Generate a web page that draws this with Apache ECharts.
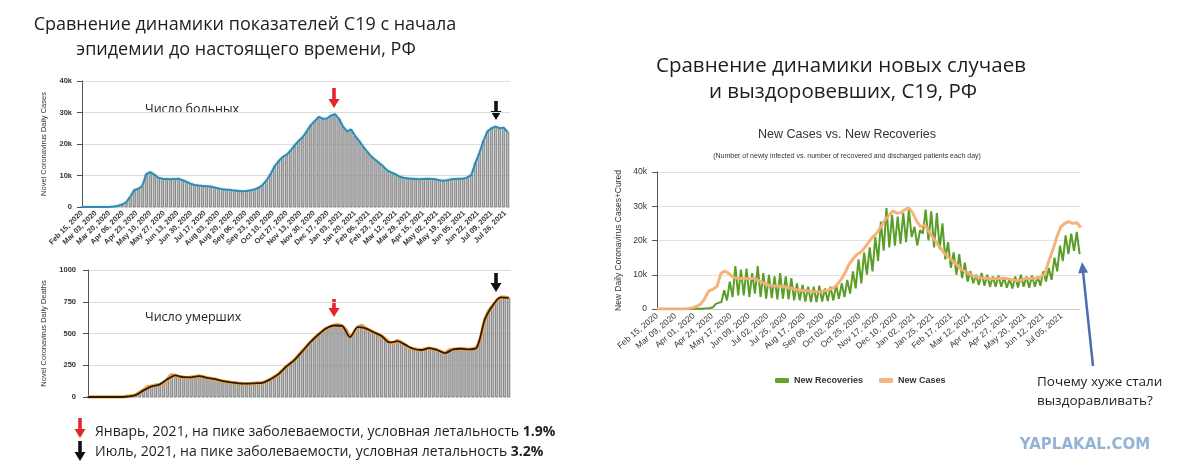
<!DOCTYPE html>
<html>
<head>
<meta charset="utf-8">
<script src="https://cdn.jsdelivr.net/npm/echarts@6/dist/echarts.min.js"></script>
<style>
html, body { margin: 0; padding: 0; background: #fff; }
#chart { width: 1178px; height: 474px; }
</style>
</head>
<body>
<div id="chart"></div>
<script>
// day 0 = Feb 15, 2020
var START = Date.UTC(2020, 1, 15);
var MONTHS = ['Jan', 'Feb', 'Mar', 'Apr', 'May', 'Jun', 'Jul', 'Aug', 'Sep', 'Oct', 'Nov', 'Dec'];

// daily new cases, one value every 5 days
var CASE_STEP = 5;
var cases = [
    0, 0, 0, 0, 0, 10, 30, 60, 180, 400,
    800, 1500, 3200, 5300, 5800, 6600, 10400, 11100, 10300, 9300,
    9000, 8900, 8800, 8900, 9000, 8500, 8000, 7400, 7000, 6800,
    6700, 6600, 6500, 6200, 5900, 5600, 5500, 5400, 5200, 5100,
    5000, 5100, 5300, 5600, 6100, 7000, 8500, 10500, 13000, 14600,
    15900, 16600, 18000, 19600, 21000, 22200, 24000, 26000, 27300, 28600,
    28000, 28100, 29000, 29500, 28000, 25500, 24000, 24600, 22600, 21000,
    19200, 17600, 16100, 15000, 14000, 12900, 11600, 11000, 10400, 9700,
    9300, 9100, 9000, 8900, 8800, 8900, 9000, 8900, 8800, 8500,
    8300, 8500, 8800, 8900, 9000, 9000, 9400, 10200, 14000, 17200,
    21000, 24000, 25000, 25500, 25000, 25200, 23800
];

// daily deaths, one value every 5 days
var deaths = [
    0, 0, 0, 0, 0, 0, 0, 0, 0, 2,
    5, 10, 15, 35, 55, 80, 85, 92, 98, 105,
    140, 175, 170, 160, 155, 150, 155, 160, 165, 160,
    150, 145, 140, 130, 125, 120, 115, 112, 108, 106,
    105, 106, 108, 110, 112, 125, 140, 160, 180, 210,
    240, 265, 290, 325, 360, 395, 430, 460, 490, 515,
    540, 550, 565, 570, 560, 530, 470, 500, 550, 565,
    540, 525, 510, 495, 480, 455, 430, 420, 445, 430,
    410, 385, 380, 375, 370, 378, 385, 378, 370, 355,
    345, 370, 375, 378, 380, 378, 375, 380, 390, 470,
    610, 680, 720, 760, 785, 785, 780
];

// smoothed deaths, one value every 10 days
var AVG_STEP = 10;
var deathsAvg = [
    0, 0, 0, 0, 0, 4, 15, 52, 84, 98,
    140, 170, 156, 155, 164, 151, 140, 125, 115, 108,
    105, 108, 112, 140, 180, 240, 290, 360, 430, 490,
    540, 563, 560, 472, 550, 540, 510, 480, 430, 440,
    410, 380, 370, 385, 370, 346, 375, 380, 375, 390,
    610, 720, 785, 780
];

// daily recoveries, one value every 3.5 days (weekly high / low)
var REC_STEP = 3.5;
var recoveries = [
    0, 0, 0, 0, 0, 0, 0, 0, 0, 0,
    0, 0, 10, 20, 40, 60, 100, 150, 200, 300,
    500, 1500, 1800, 2000, 5500, 2500, 8000, 3500, 12500, 4000,
    11500, 4000, 11800, 3500, 10500, 4500, 12500, 3500, 10500, 3000,
    10000, 3200, 9500, 2800, 10500, 3000, 9500, 2800, 9000, 2500,
    7500, 2500, 7000, 2200, 6500, 2000, 6500, 2000, 6800, 2200,
    6000, 2300, 6500, 2500, 7000, 3000, 7500, 3500, 8500, 4500,
    11000, 6000, 14500, 7500, 16500, 10000, 18000, 11000, 21000, 14000,
    25500, 17000, 29500, 18000, 27500, 18500, 27000, 19000, 28000, 19500,
    29000, 21000, 24000, 18500, 23000, 22000, 29000, 20000, 28500, 18000,
    28000, 17500, 25000, 14500, 19500, 12000, 16500, 10000, 16000, 9000,
    13500, 8000, 11000, 7500, 10000, 7000, 10500, 6800, 10000, 6500,
    9500, 6500, 9800, 6500, 9200, 6200, 8800, 6000, 9500, 6300,
    10000, 6500, 9500, 6200, 9800, 6500, 9500, 6800, 11000, 8000,
    12000, 8500, 15000, 11000, 18500, 14000, 21500, 16000, 22000, 17000,
    22500, 16000
];

var leftTicks = 17;   // days between date labels, left charts
var rightTicks = 23;  // days between date labels, right chart

function pairs(arr, step) {
    return arr.map(function (v, i) { return [i * step, v]; });
}

function dayLabel(d) {
    var dt = new Date(START + Math.round(d) * 86400000);
    var dd = dt.getUTCDate();
    return MONTHS[dt.getUTCMonth()] + ' ' + (dd < 10 ? '0' + dd : dd) + ', ' + dt.getUTCFullYear();
}

function kLabel(v) {
    return v === 0 ? '0' : (v / 1000) + 'k';
}

function plainLabel(v) {
    return String(v);
}

function downArrow(x, y1, y2, color) {
    return {
        type: 'group',
        children: [
            { type: 'rect', shape: { x: x - 1.8, y: y1, width: 3.6, height: y2 - y1 - 7 }, style: { fill: color } },
            { type: 'polygon', shape: { points: [[x - 5.5, y2 - 9], [x + 5.5, y2 - 9], [x, y2]] }, style: { fill: color } }
        ]
    };
}

function upArrow(x1, y1, x2, y2, color) {
    var dx = x2 - x1, dy = y2 - y1;
    var len = Math.sqrt(dx * dx + dy * dy);
    var ux = dx / len, uy = dy / len;
    var bx = x2 - ux * 11, by = y2 - uy * 11;
    return {
        type: 'group',
        children: [
            { type: 'line', shape: { x1: x1, y1: y1, x2: bx, y2: by }, style: { stroke: color, lineWidth: 2.5 } },
            { type: 'polygon', shape: { points: [[x2, y2], [bx - uy * 5, by + ux * 5], [bx + uy * 5, by - ux * 5]] }, style: { fill: color } }
        ]
    };
}

function txt(x, y, text, font, fill, align) {
    return {
        type: 'text', x: x, y: y,
        style: { text: text, font: font, fill: fill, align: align || 'left', verticalAlign: 'middle' }
    };
}

var leftTitleFont = '18px "Open Sans", sans-serif';
var rightTitleFont = '20.5px "Open Sans", sans-serif';
var bodyFont = '14px "Open Sans", sans-serif';
var axisFont = '"Liberation Sans", Arial, sans-serif';

var chart = echarts.init(document.getElementById('chart'));

var option = {
    animation: false,
    grid: [
        { left: 82, top: 81, width: 428, height: 126 },
        { left: 88, top: 270, width: 423, height: 127 },
        { left: 657, top: 172, width: 423, height: 137 }
    ],
    legend: {
        data: ['New Recoveries', 'New Cases'],
        left: 770, top: 371,
        itemWidth: 14, itemHeight: 5, itemGap: 16,
        icon: 'roundRect',
        textStyle: { fontSize: 9, fontWeight: 'bold', color: '#333', fontFamily: axisFont }
    },
    xAxis: [
        {
            type: 'value', gridIndex: 0, min: 0, max: 533, interval: leftTicks,
            axisLine: { show: false }, axisTick: { show: false }, splitLine: { show: false },
            axisLabel: {
                rotate: 45, fontSize: 7.5, fontWeight: 'bold', color: '#3a3a3a', margin: 5,
                fontFamily: axisFont, showMaxLabel: false, formatter: dayLabel
            }
        },
        {
            type: 'value', gridIndex: 1, min: 0, max: 533, interval: leftTicks,
            axisLine: { show: false }, axisTick: { show: false }, splitLine: { show: false },
            axisLabel: { show: false }
        },
        {
            type: 'value', gridIndex: 2, min: 0, max: 529, interval: rightTicks,
            axisLine: { show: true, lineStyle: { color: '#c8c8c8' } }, axisTick: { show: false },
            splitLine: { show: false },
            axisLabel: {
                rotate: 40, fontSize: 8.5, color: '#333', margin: 6,
                fontFamily: axisFont, showMaxLabel: false, formatter: dayLabel
            }
        }
    ],
    yAxis: [
        {
            type: 'value', gridIndex: 0, min: 0, max: 40000, interval: 10000,
            name: 'Novel Coronavirus Daily Cases', nameLocation: 'middle', nameGap: 34,
            nameTextStyle: { fontSize: 7.5, color: '#333', fontFamily: axisFont },
            axisLabel: { fontSize: 7.5, fontWeight: 'bold', color: '#333', margin: 10, fontFamily: axisFont, formatter: kLabel },
            splitLine: { lineStyle: { color: '#dcdcdc' } }
        },
        {
            type: 'value', gridIndex: 1, min: 0, max: 1000, interval: 250,
            name: 'Novel Coronavirus Daily Deaths', nameLocation: 'middle', nameGap: 40,
            nameTextStyle: { fontSize: 7.5, color: '#333', fontFamily: axisFont },
            axisLabel: { fontSize: 7.5, fontWeight: 'bold', color: '#333', margin: 12, fontFamily: axisFont, formatter: plainLabel },
            splitLine: { lineStyle: { color: '#dcdcdc' } }
        },
        {
            type: 'value', gridIndex: 2, min: 0, max: 40000, interval: 10000,
            name: 'New Daily Coronavirus Cases+Cured', nameLocation: 'middle', nameGap: 34,
            nameTextStyle: { fontSize: 8.5, color: '#333', fontFamily: axisFont },
            axisLabel: { fontSize: 8.5, color: '#333', margin: 10, fontFamily: axisFont, formatter: kLabel },
            splitLine: { lineStyle: { color: '#e2e2e2' } }
        }
    ],
    series: [
        {
            name: 'cases bars', type: 'bar', xAxisIndex: 0, yAxisIndex: 0,
            data: pairs(cases, CASE_STEP), barWidth: 3,
            itemStyle: { color: '#bcbcbc', borderColor: '#4d4d4d', borderWidth: 0.6 }
        },
        {
            name: 'cases line', type: 'line', xAxisIndex: 0, yAxisIndex: 0,
            data: pairs(cases, CASE_STEP), symbol: 'none',
            lineStyle: { color: '#3489ad', width: 2, shadowColor: 'rgba(120,210,235,0.8)', shadowBlur: 2 }
        },
        {
            name: 'deaths bars', type: 'bar', xAxisIndex: 1, yAxisIndex: 1,
            data: pairs(deaths, CASE_STEP), barWidth: 3,
            itemStyle: { color: '#bcbcbc', borderColor: '#4d4d4d', borderWidth: 0.6 }
        },
        {
            name: 'deaths line', type: 'line', xAxisIndex: 1, yAxisIndex: 1,
            data: pairs(deaths, CASE_STEP), symbol: 'none',
            lineStyle: { color: '#f0a040', width: 3.5 }
        },
        {
            name: 'deaths avg', type: 'line', xAxisIndex: 1, yAxisIndex: 1,
            data: pairs(deathsAvg, AVG_STEP), symbol: 'none', smooth: 0.3,
            lineStyle: { color: '#2b1a0c', width: 1.8 }
        },
        {
            name: 'New Recoveries', type: 'line', xAxisIndex: 2, yAxisIndex: 2,
            data: pairs(recoveries, REC_STEP), symbol: 'none',
            itemStyle: { color: '#62a52d' },
            lineStyle: { color: '#5a9e28', width: 2 }
        },
        {
            name: 'New Cases', type: 'line', xAxisIndex: 2, yAxisIndex: 2,
            data: pairs(cases, CASE_STEP), symbol: 'none',
            itemStyle: { color: '#f6b47c' },
            lineStyle: { color: 'rgba(245,175,115,0.95)', width: 3 }
        }
    ],
    graphic: [
        txt(245, 25, 'Сравнение динамики показателей С19 с начала', leftTitleFont, '#1e1e1e', 'center'),
        txt(246, 50, 'эпидемии до настоящего времени, РФ', leftTitleFont, '#1e1e1e', 'center'),
        txt(841, 66, 'Сравнение динамики новых случаев', rightTitleFont, '#1e1e1e', 'center'),
        txt(843, 92, 'и выздоровевших, С19, РФ', rightTitleFont, '#1e1e1e', 'center'),
        txt(145, 109, 'Число больных', '12.5px "Open Sans", sans-serif', '#1e1e1e'),
        txt(145, 317, 'Число умерших', '12.5px "Open Sans", sans-serif', '#1e1e1e'),
        txt(847, 135, 'New Cases vs. New Recoveries', '12.5px ' + axisFont, '#333', 'center'),
        txt(847, 156, '(Number of newly infected vs. number of recovered and discharged patients each day)', '7px ' + axisFont, '#333', 'center'),
        downArrow(334, 88, 108, '#e3262b'),
        downArrow(496, 101, 120, '#111'),
        downArrow(334, 299, 317, '#e3262b'),
        downArrow(496, 273, 292, '#111'),
        downArrow(80, 418, 438, '#e3262b'),
        downArrow(80, 441, 461, '#111'),
        {
            type: 'text', x: 95, y: 432,
            style: {
                text: '{n|Январь, 2021, на пике заболеваемости, условная летальность }{b|1.9%}',
                verticalAlign: 'middle',
                rich: {
                    n: { font: bodyFont, fill: '#1e1e1e' },
                    b: { font: 'bold ' + bodyFont, fill: '#1e1e1e' }
                }
            }
        },
        {
            type: 'text', x: 95, y: 452,
            style: {
                text: '{n|Июль, 2021, на пике заболеваемости, условная летальность }{b|3.2%}',
                verticalAlign: 'middle',
                rich: {
                    n: { font: bodyFont, fill: '#1e1e1e' },
                    b: { font: 'bold ' + bodyFont, fill: '#1e1e1e' }
                }
            }
        },
        upArrow(1093, 366, 1082, 262, '#4a6eb0'),
        txt(1037, 382, 'Почему хуже стали', '13.5px "Open Sans", sans-serif', '#1e1e1e'),
        txt(1037, 401, 'выздоравливать?', '13.5px "Open Sans", sans-serif', '#1e1e1e'),
        txt(1085, 445, 'YAPLAKAL.COM', 'bold 15px "DejaVu Sans", sans-serif', '#93b4d4', 'center')
    ]
};

chart.setOption(option);
</script>
</body>
</html>
